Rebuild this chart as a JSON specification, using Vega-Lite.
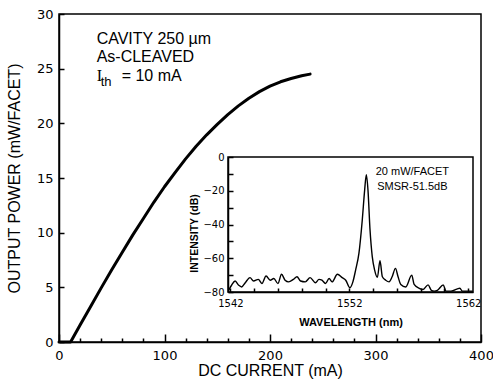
{
  "$schema": "https://vega.github.io/schema/vega-lite/v6.json",
  "width": 422,
  "height": 328,
  "autosize": {"type": "none"},
  "padding": {"left": 59, "top": 14, "right": 12, "bottom": 49},
  "background": "white",
  "config": {
    "view": {"stroke": "black", "strokeWidth": 1.5},
    "axis": {"grid": false, "domainColor": "black", "domainWidth": 1.5, "tickColor": "black", "tickWidth": 1.5, "labelColor": "black", "titleColor": "black", "labelFlush": false, "labelOverlap": false, "titleFontWeight": "normal"}
  },
  "datasets": {
    "li": [
      {"current": 0, "power": 0}, {"current": 11, "power": 0}, {"current": 20, "power": 1.55}, {"current": 30, "power": 3.25}, {"current": 40, "power": 4.95}, {"current": 50, "power": 6.6},
      {"current": 60, "power": 8.2}, {"current": 70, "power": 9.8}, {"current": 80, "power": 11.3}, {"current": 90, "power": 12.8}, {"current": 100, "power": 14.2}, {"current": 110, "power": 15.5},
      {"current": 120, "power": 16.75}, {"current": 130, "power": 17.9}, {"current": 140, "power": 18.95}, {"current": 150, "power": 19.9},
      {"current": 160, "power": 20.8}, {"current": 170, "power": 21.6}, {"current": 180, "power": 22.3}, {"current": 190, "power": 22.9},
      {"current": 200, "power": 23.4}, {"current": 210, "power": 23.8}, {"current": 220, "power": 24.1}, {"current": 230, "power": 24.35}, {"current": 238, "power": 24.5}
    ],
    "notes": [
      {"x": 35.7, "y": 27.7, "label": "CAVITY 250 µm"},
      {"x": 35.7, "y": 26.1, "label": "As-CLEAVED"},
      {"x": 59.4, "y": 24.3, "label": "= 10 mA"}
    ],
    "notesI": [{"x": 35.7, "y": 24.3, "label": "I"}],
    "notesSub": [{"x": 39.5, "y": 23.75, "label": "th"}],
    "box": [{"x1": 1541.8, "x2": 1562.4, "y1": -80, "y2": 0}],
    "spectrum": [
      {"wl": 1541.85, "db": -79}, {"wl": 1542.1, "db": -76}, {"wl": 1542.4, "db": -73.5}, {"wl": 1542.7, "db": -76},
      {"wl": 1542.95, "db": -77}, {"wl": 1543.25, "db": -74.5}, {"wl": 1543.65, "db": -71.5}, {"wl": 1543.95, "db": -73.5},
      {"wl": 1544.35, "db": -72.5}, {"wl": 1544.65, "db": -75}, {"wl": 1545.0, "db": -70.5}, {"wl": 1545.35, "db": -73},
      {"wl": 1545.65, "db": -72}, {"wl": 1546.0, "db": -75}, {"wl": 1546.3, "db": -69.5}, {"wl": 1546.6, "db": -73},
      {"wl": 1546.9, "db": -74}, {"wl": 1547.3, "db": -72.5}, {"wl": 1547.6, "db": -71}, {"wl": 1547.9, "db": -73.5},
      {"wl": 1548.3, "db": -74}, {"wl": 1548.7, "db": -71.5}, {"wl": 1549.15, "db": -74.5}, {"wl": 1549.45, "db": -72.5},
      {"wl": 1549.7, "db": -73}, {"wl": 1550.0, "db": -75}, {"wl": 1550.3, "db": -72}, {"wl": 1550.55, "db": -74},
      {"wl": 1551.0, "db": -69.5}, {"wl": 1551.4, "db": -71.5}, {"wl": 1551.7, "db": -73}, {"wl": 1552.05, "db": -77.5},
      {"wl": 1552.3, "db": -74}, {"wl": 1552.53, "db": -67}, {"wl": 1552.81, "db": -57}, {"wl": 1553.09, "db": -37.3},
      {"wl": 1553.29, "db": -19.6}, {"wl": 1553.43, "db": -10.5}, {"wl": 1553.57, "db": -19.6}, {"wl": 1553.74, "db": -43},
      {"wl": 1553.93, "db": -59}, {"wl": 1554.13, "db": -67}, {"wl": 1554.36, "db": -71.3}, {"wl": 1554.58, "db": -61.5},
      {"wl": 1554.78, "db": -71}, {"wl": 1555.06, "db": -73}, {"wl": 1555.34, "db": -74}, {"wl": 1555.6, "db": -71},
      {"wl": 1555.88, "db": -66}, {"wl": 1556.1, "db": -71}, {"wl": 1556.33, "db": -75.5}, {"wl": 1556.75, "db": -77},
      {"wl": 1557.25, "db": -70}, {"wl": 1557.45, "db": -75.5}, {"wl": 1557.88, "db": -77.8}, {"wl": 1558.2, "db": -78.5},
      {"wl": 1558.62, "db": -75.8}, {"wl": 1558.9, "db": -79}, {"wl": 1559.14, "db": -79.5}, {"wl": 1559.4, "db": -79},
      {"wl": 1559.9, "db": -75.8}, {"wl": 1560.13, "db": -79.5}, {"wl": 1560.55, "db": -79.5}, {"wl": 1561.3, "db": -77.8},
      {"wl": 1561.5, "db": -79.5}, {"wl": 1562.38, "db": -79.5}
    ],
    "insetNotes": [
      {"wl": 1557.3, "db": -8.7, "label": "20 mW/FACET"},
      {"wl": 1557.3, "db": -17.6, "label": "SMSR-51.5dB"}
    ]
  },
  "layer": [
    {
      "resolve": {"axis": {"x": "independent"}},
      "layer": [
        {
          "data": {"name": "li"},
          "mark": {"type": "line", "color": "black", "strokeWidth": 3, "strokeJoin": "round", "strokeCap": "round"},
          "encoding": {
            "x": {
              "field": "current", "type": "quantitative",
              "scale": {"domain": [0, 400], "nice": false},
              "axis": {
                "orient": "bottom",
                "values": [20, 40, 60, 80, 120, 140, 160, 180, 220, 240, 260, 280, 320, 340, 360, 380],
                "labels": false, "domain": false,
                "tickSize": -4,
                "title": null
              }
            },
            "y": {
              "field": "power", "type": "quantitative",
              "scale": {"domain": [0, 30], "nice": false},
              "axis": {
                "values": [0, 5, 10, 15, 20, 25, 30],
                "tickSize": -5,
                "labelFont": "DejaVu Sans", "labelFontSize": 13, "labelPadding": 11,
                "title": "OUTPUT POWER (mW/FACET)", "titleFont": "Liberation Sans", "titleFontSize": 16,
                "titleBaseline": "middle", "titleX": -45, "titleY": 164
              }
            }
          }
        },
        {
          "data": {"name": "notes"},
          "mark": {"type": "text", "align": "left", "baseline": "middle", "font": "Liberation Sans", "fontSize": 16, "color": "black"},
          "encoding": {
            "x": {
              "field": "x", "type": "quantitative",
              "axis": {
                "orient": "bottom",
                "values": [0, 100, 200, 300, 400],
                "tickSize": -8,
                "labelFont": "DejaVu Sans", "labelFontSize": 13, "labelPadding": 15,
                "title": "DC CURRENT (mA)", "titleFont": "Liberation Sans", "titleFontSize": 16,
                "titleBaseline": "middle", "titleY": 28
              }
            },
            "y": {"field": "y", "type": "quantitative"},
            "text": {"field": "label"}
          }
        },
        {
          "data": {"name": "notesI"},
          "mark": {"type": "text", "align": "left", "baseline": "middle", "font": "Liberation Serif", "fontSize": 16, "color": "black"},
          "encoding": {
            "x": {"field": "x", "type": "quantitative", "axis": null},
            "y": {"field": "y", "type": "quantitative"},
            "text": {"field": "label"}
          }
        },
        {
          "data": {"name": "notesSub"},
          "mark": {"type": "text", "align": "left", "baseline": "middle", "font": "Liberation Sans", "fontSize": 13, "color": "black"},
          "encoding": {
            "x": {"field": "x", "type": "quantitative", "axis": null},
            "y": {"field": "y", "type": "quantitative"},
            "text": {"field": "label"}
          }
        }
      ]
    },
    {
      "layer": [
        {
          "data": {"name": "box"},
          "mark": {"type": "rect", "filled": false, "color": "black", "strokeWidth": 1.5},
          "encoding": {
            "x": {
              "field": "x1", "type": "quantitative",
              "scale": {"domain": [1541.8, 1562.4], "range": [169, 414], "nice": false, "zero": false},
              "axis": {
                "orient": "bottom", "offset": -50,
                "values": [1542, 1544, 1546, 1548, 1550, 1552, 1554, 1556, 1558, 1560, 1562],
                "format": "d",
                "labelExpr": "(datum.value - 1542) % 10 === 0 ? datum.label : ''",
                "tickSize": -4,
                "labelFont": "DejaVu Sans", "labelFontSize": 10, "labelPadding": 10,
                "title": "WAVELENGTH (nm)", "titleFont": "Liberation Sans", "titleFontSize": 11, "titleFontWeight": "bold",
                "titleBaseline": "middle", "titleY": 30
              }
            },
            "x2": {"field": "x2"},
            "y": {
              "field": "y1", "type": "quantitative",
              "scale": {"domain": [-80, 0], "range": [278, 143], "nice": false, "zero": false},
              "axis": {
                "orient": "left", "offset": -169,
                "values": [-80, -70, -60, -50, -40, -30, -20, -10, 0],
                "format": "d",
                "labelExpr": "datum.value % 20 === 0 ? datum.label : ''",
                "tickSize": -5,
                "labelFont": "DejaVu Sans", "labelFontSize": 10, "labelPadding": 9,
                "title": "INTENSITY (dB)", "titleFont": "Liberation Sans", "titleFontSize": 10.5, "titleFontWeight": "bold",
                "titleBaseline": "middle", "titleX": -34, "titleY": 219
              }
            },
            "y2": {"field": "y2"}
          }
        },
        {
          "data": {"name": "spectrum"},
          "mark": {"type": "line", "color": "black", "strokeWidth": 1.4, "interpolate": "monotone"},
          "encoding": {
            "x": {"field": "wl", "type": "quantitative"},
            "y": {"field": "db", "type": "quantitative"}
          }
        },
        {
          "data": {"name": "insetNotes"},
          "mark": {"type": "text", "align": "center", "baseline": "middle", "font": "Liberation Sans", "fontSize": 11, "color": "black"},
          "encoding": {
            "x": {"field": "wl", "type": "quantitative"},
            "y": {"field": "db", "type": "quantitative"},
            "text": {"field": "label"}
          }
        }
      ]
    }
  ],
  "resolve": {"scale": {"x": "independent", "y": "independent"}, "axis": {"x": "independent", "y": "independent"}}
}
